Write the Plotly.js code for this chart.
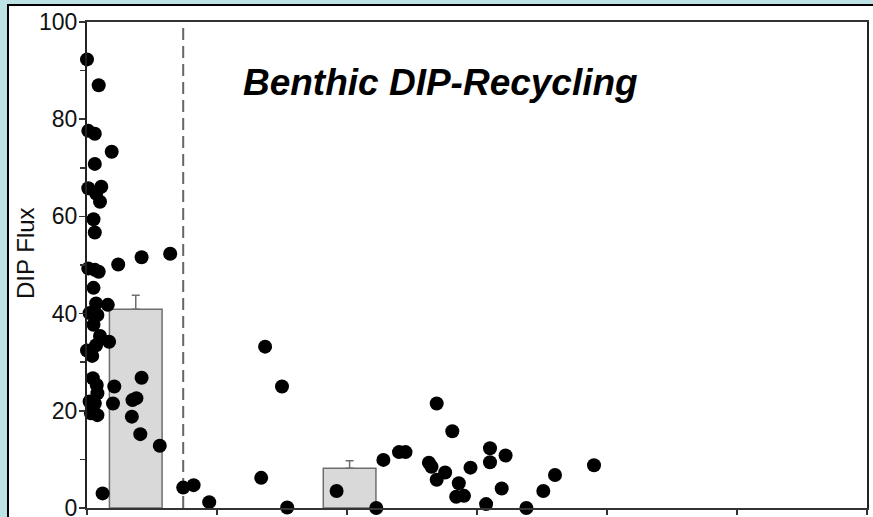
<!DOCTYPE html>
<html>
<head>
<meta charset="utf-8">
<script src="https://cdn.plot.ly/plotly-3.0.1.min.js"></script>
<style>
  html, body { margin: 0; padding: 0; width: 873px; height: 517px; overflow: hidden; background: #bde2e5; }
  #frame { position: absolute; left: 7px; top: 4px; width: 864px; height: 511px;
           border-left: 2px solid #000; border-top: 2px solid #000; background: #fff; overflow: hidden; }
  #chart { width: 864px; height: 560px; }
</style>
</head>
<body>
<div id="frame"><div id="chart"></div></div>
<script>
// Individual DIP flux observations (x = jittered position, y = flux)
const pointX = [
  0.00, 0.09, 0.01, 0.06, 0.19, 0.06, 0.01, 0.11, 0.07, 0.10,
  0.05, 0.06, 0.24, 0.42, 0.64, 0.01, 0.06, 0.09, 0.05, 0.07,
  0.16, 0.02, 0.08, 0.05, 0.10, 0.17, 0.07, 0.00, 0.04, 0.045,
  0.075, 0.08, 0.21, 0.42, 0.02, 0.06, 0.03, 0.08, 0.20, 0.35,
  0.38, 0.345, 0.41, 0.56, 0.12,
  0.74, 0.82, 0.94, 1.34, 1.37, 1.50, 1.54,
  1.92, 2.225, 2.28, 2.40, 2.45, 2.69, 2.81, 2.63, 2.65, 2.755,
  2.69, 2.86, 2.84, 2.90, 2.95, 3.10, 3.10, 3.22, 3.07, 3.19,
  3.38, 3.51, 3.60, 3.90
];
const pointY = [
  92.3, 87.0, 77.6, 77.0, 73.3, 70.8, 65.8, 66.1, 64.7, 63.0,
  59.4, 56.7, 50.1, 51.6, 52.3, 49.3, 49.0, 48.6, 45.3, 42.1,
  41.8, 40.1, 39.7, 37.7, 35.4, 34.2, 33.5, 32.4, 31.3, 26.7,
  25.3, 23.6, 25.0, 26.8, 21.9, 21.5, 19.5, 19.1, 21.5, 22.2,
  22.6, 18.8, 15.2, 12.8, 3.0,
  4.2, 4.7, 1.2, 6.2, 33.2, 25.0, 0.1,
  3.5, 0.0, 9.9, 11.5, 11.5, 21.5, 15.8, 9.3, 8.5, 7.3,
  5.8, 5.1, 2.3, 2.5, 8.3, 12.3, 9.4, 10.8, 0.8, 4.0,
  0.0, 3.5, 6.8, 8.8
];
// Mean bars with upper error
const barX = [0.375, 2.02];
const barMean = [40.9, 8.2];
const barErr = [2.9, 1.5];
// Divider between groups
const dividerX = [0.74, 0.74];
const dividerY = [0, 100];

const traces = [
  {
    type: 'bar', x: barX, y: barMean, width: 0.405,
    marker: { color: '#d9d9d9', line: { color: '#6e6e6e', width: 1.5 } },
    error_y: { type: 'data', array: barErr, arrayminus: [0, 0], symmetric: false,
               color: '#6e6e6e', thickness: 1.5, width: 4 },
    hoverinfo: 'skip', showlegend: false
  },
  {
    type: 'scatter', mode: 'lines', x: dividerX, y: dividerY,
    line: { color: '#666', width: 2, dash: '12px,6px' },
    hoverinfo: 'skip', showlegend: false
  },
  {
    type: 'scatter', mode: 'markers', x: pointX, y: pointY,
    marker: { color: '#000', size: 14 },
    cliponaxis: false, showlegend: false
  }
];

const layout = {
  width: 864, height: 560,
  margin: { l: 78, r: 6, t: 16, b: 58 },
  paper_bgcolor: '#fff', plot_bgcolor: '#fff',
  font: { family: 'Liberation Sans, Arial, sans-serif', color: '#000' },
  showlegend: false,
  bargap: 0,
  title: {
    text: '<b><i>Benthic DIP-Recycling</i></b>',
    font: { size: 37, color: '#000', family: 'Liberation Sans, Arial, sans-serif' },
    xref: 'paper', yref: 'paper', x: 0.453, xanchor: 'center', y: 0.876, yanchor: 'middle'
  },
  xaxis: {
    range: [0, 6], dtick: 1, tick0: 0, showgrid: false, zeroline: false,
    showticklabels: false, ticks: 'outside', ticklen: 5, tickwidth: 1.5, tickcolor: '#333',
    showline: true, linecolor: '#333', linewidth: 2, mirror: true
  },
  yaxis: {
    range: [0, 100], dtick: 20, tick0: 0, showgrid: false, zeroline: false,
    ticks: 'outside', ticklen: 6, tickwidth: 1.5, tickcolor: '#333', ticklabelstandoff: -3,
    minor: { dtick: 10, ticks: 'outside', ticklen: 5, tickwidth: 1.5, tickcolor: '#333', showgrid: false },
    tickfont: { size: 23, color: '#111' },
    showline: true, linecolor: '#222', linewidth: 2, mirror: true
  },
  annotations: [
    {
      text: 'DIP Flux', textangle: -90, showarrow: false,
      xref: 'paper', yref: 'paper', x: -0.078, y: 0.525, xanchor: 'center', yanchor: 'middle',
      font: { size: 24, color: '#111' }
    }
  ]
};

Plotly.newPlot('chart', traces, layout, { staticPlot: true, displayModeBar: false });
</script>
</body>
</html>
